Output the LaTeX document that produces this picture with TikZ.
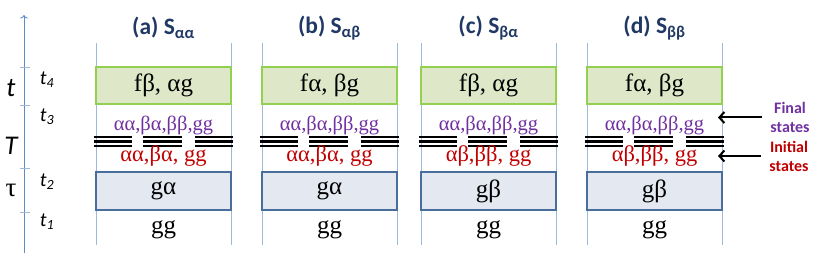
\documentclass[tikz,border=0pt]{standalone}
\usepackage{fontspec}
\setmainfont{Carlito}
\newfontfamily\serfont{Liberation Serif}
\usetikzlibrary{arrows.meta}

\definecolor{axisblue}{HTML}{5B8BC9}
\definecolor{lineblue}{HTML}{9DB9DC}
\definecolor{edgegreen}{HTML}{92D050}
\definecolor{fillgreen}{HTML}{DEE8C8}
\definecolor{edgeblue}{HTML}{4A6E9C}
\definecolor{fillblue}{HTML}{E3E8F1}
\definecolor{titlenavy}{HTML}{1F3864}
\definecolor{finalpurple}{HTML}{7030A0}
\definecolor{initred}{HTML}{C00000}

\tikzset{
  panelline/.style={draw=lineblue, line width=0.9pt},
  finalbox/.style={draw=edgegreen, fill=fillgreen, line width=1.6pt, minimum width=135pt, minimum height=37pt, inner sep=0pt, font=\fontsize{25}{28}\selectfont\serfont},
  startbox/.style={draw=edgeblue, fill=fillblue, line width=1.6pt, minimum width=135pt, minimum height=38pt, inner sep=0pt, font=\fontsize{25}{28}\selectfont\serfont},
  titletext/.style={text=titlenavy, font=\fontsize{23.5}{26}\selectfont\bfseries},
  finaltext/.style={text=finalpurple, font=\fontsize{20.5}{24}\selectfont\serfont, inner sep=0pt},
  inittext/.style={text=initred, font=\fontsize{22.5}{26}\selectfont\serfont, inner sep=0pt},
  sepline/.style={line width=2.3pt},
  timetext/.style={font=\fontsize{20}{24}\selectfont\itshape},
  bigtime/.style={font=\fontsize{27}{30}\selectfont\itshape},
  notetext/.style={font=\fontsize{16}{19}\selectfont\bfseries, align=center, inner sep=0pt},
  notearrow/.style={-{Straight Barb[length=5pt,width=11pt]}, line width=2pt, shorten <=8pt}
}

\begin{document}
\begin{tikzpicture}[x=1pt,y=-1pt]
\useasboundingbox (0,0) rectangle (817,259);

\draw[axisblue, line width=0.9pt, ->] (24,253) -- (24,15);
\foreach \y in {67,105,168,212}
  \draw[lineblue, line width=0.9pt] (20,\y) -- (30,\y);

\node[bigtime] (tlab) at (11,88) {t};
\node[bigtime] (Tlab) at (11,146) {T};
\node[font=\fontsize{27}{30}\selectfont\serfont] (taulab) at (11,190) {τ};
\node[timetext] (t4) at (47,80) {t\textsubscript{4}};
\node[timetext] (t3) at (47,117) {t\textsubscript{3}};
\node[timetext] (t2) at (47,182) {t\textsubscript{2}};
\node[timetext] (t1) at (47,222) {t\textsubscript{1}};

\foreach \i/\x/\sub/\fin/\ini/\st in {
    a/96/αα/{fβ, αg}/{αα,βα, gg}/gα,
    b/262/αβ/{fα, βg}/{αα,βα, gg}/gα,
    c/421/βα/{fβ, αg}/{αβ,ββ, gg}/gβ,
    d/587/ββ/{fα, βg}/{αβ,ββ, gg}/gβ} {
  \draw[panelline] (\x,43) -- (\x,245);
  \draw[panelline] (\x+135,43) -- (\x+135,245);
  \node[titletext] (ttl\i) at (\x+67.5,28) {(\i) S\textsubscript{\sub}};
  \node[finalbox] (fin\i) at (\x+67.5,85.5) {\fin};
  \node[finaltext] (fst\i) at (\x+67.5,125) {αα,βα,ββ,gg};
  \foreach \a/\b in {-2/36,47/86,99/137}
    \foreach \yy in {137.3,141.5,145.7}
      \draw[sepline] (\x+\a,\yy) -- (\x+\b,\yy);
  \node[inittext] (ist\i) at (\x+67.5,156) {\ini};
  \node[startbox] (st\i) at (\x+67.5,191) {\st};
  \node[font=\fontsize{25}{28}\selectfont\serfont] (gg\i) at (\x+67.5,230) {gg};
}

\node[notetext, text=finalpurple] (fnote) at (790,117.5) {Final\\states};
\node[notetext, text=initred] (inote) at (789,156) {Initial\\states};
\coordinate (fend) at (718,117.5);
\coordinate (iend) at (718,156);
\draw[notearrow] (fnote.west) -- (fend);
\draw[notearrow] (inote.west) -- (iend);

\end{tikzpicture}
\end{document}
